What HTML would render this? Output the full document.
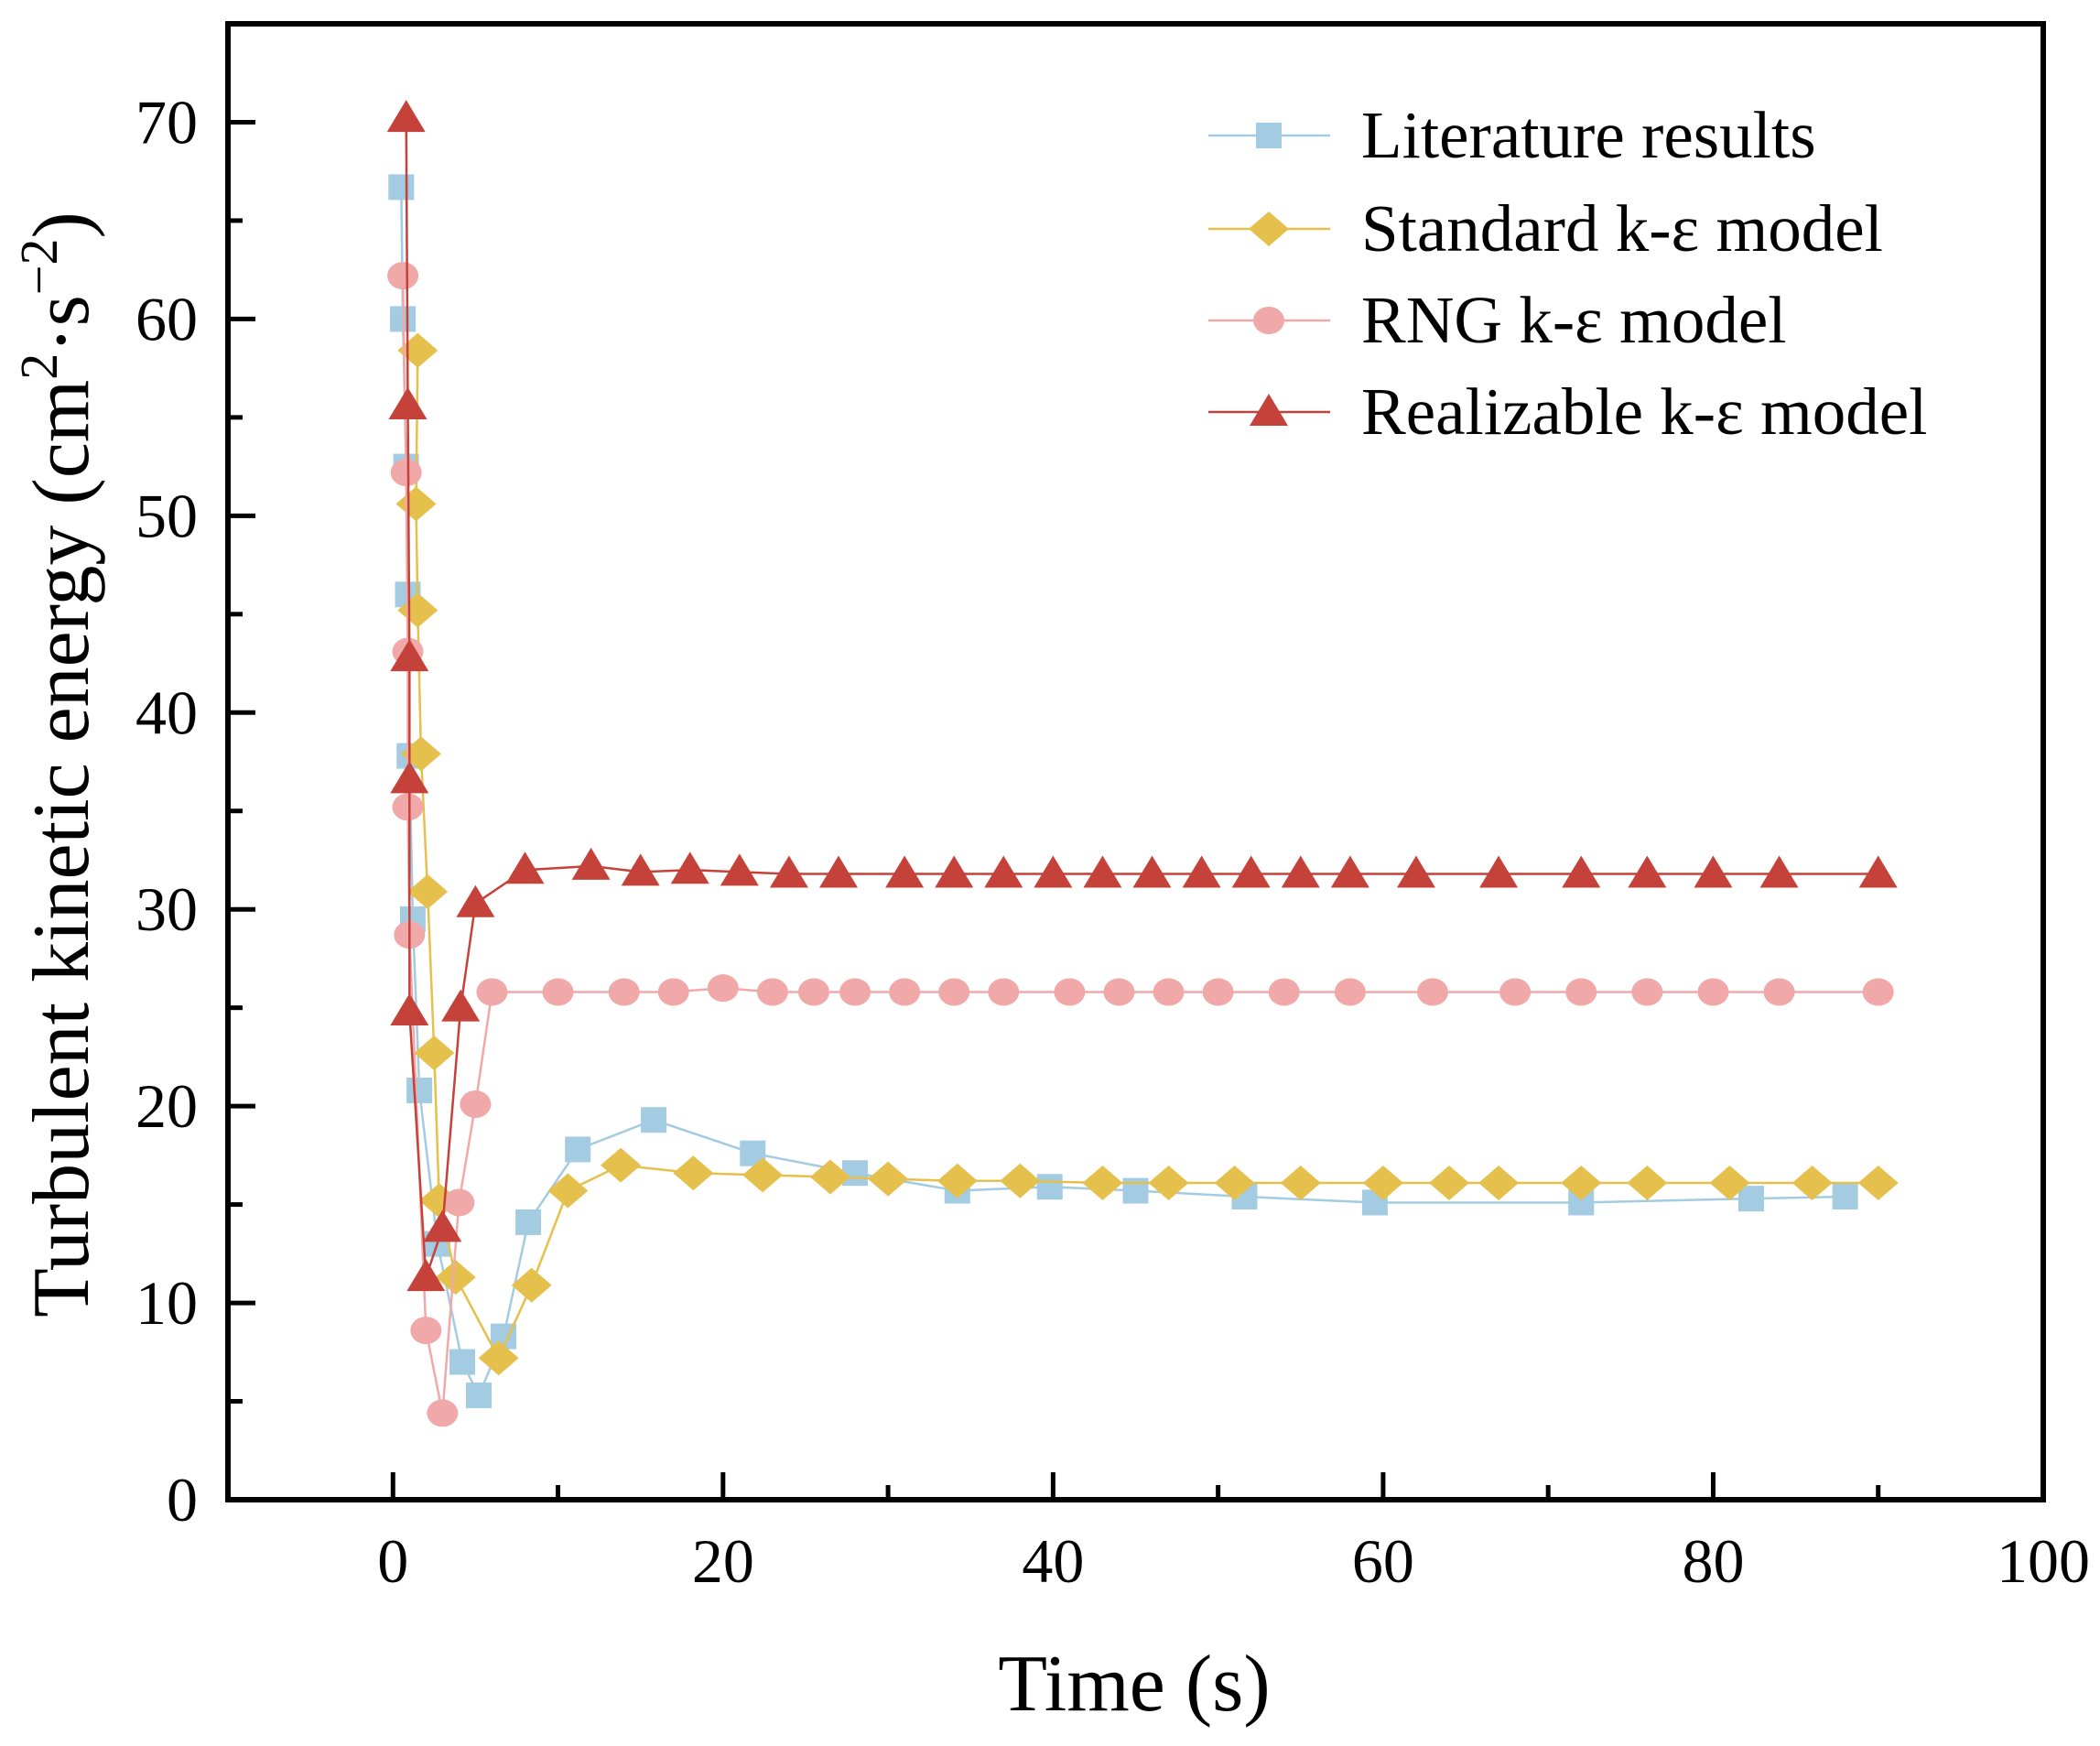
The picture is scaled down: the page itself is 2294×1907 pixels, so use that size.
<!DOCTYPE html>
<html><head><meta charset="utf-8"><style>
html,body{margin:0;padding:0;background:#fff}
svg{display:block;font-family:"Liberation Serif",serif}
</style></head><body>
<svg id="chart" width="2294" height="1907" viewBox="0 0 2294 1907" xmlns="http://www.w3.org/2000/svg">
<rect width="2294" height="1907" fill="#fff"/>
<g id="plot"></g>
<g id="axes"></g>
<text x="1239" y="1868" font-size="88" text-anchor="middle">Time (s)</text>
<text transform="translate(96,835) rotate(-90)" font-size="88" text-anchor="middle">Turbulent kinetic energy (cm<tspan dy="-34" font-size="58">2</tspan><tspan dy="34">·s</tspan><tspan dy="-34" font-size="58">−2</tspan><tspan dy="34">)</tspan></text>
<g id="legend"></g>
</svg>
<script>
const litX=[0.5,0.6,0.8,0.9,1.0,1.2,1.6,2.7,4.2,5.2,6.7,8.2,11.2,15.8,21.8,28,34.2,39.8,45,51.6,59.5,72,82.3,88];
const litY=[66.7,60,52.5,46,37.8,29.5,20.8,13,7,5.3,8.3,14.1,17.8,19.3,17.6,16.6,15.7,15.9,15.7,15.4,15.1,15.1,15.3,15.4];
const stdX=[1.5,1.4,1.5,1.7,2.1,2.5,2.8,3.8,6.4,8.4,10.6,13.8,18.2,22.4,26.5,30,34.2,38,43,47,51,55,60,64,67,72,76,81,86,90];
const stdY=[58.4,50.6,45.2,37.9,30.9,22.7,15.2,11.3,7.2,10.9,15.7,17,16.6,16.5,16.4,16.3,16.2,16.2,16.1,16.1,16.1,16.1,16.1,16.1,16.1,16.1,16.1,16.1,16.1,16.1];
const rngX=[0.6,0.8,0.9,0.9,1.0,2.0,3.0,4.0,5.0,6.0,10,14,17,20,23,25.5,28,31,34,37,41,44,47,50,54,58,63,68,72,76,80,84,90];
const rngY=[62.2,52.2,43.1,35.2,28.7,8.6,4.4,15.1,20.1,25.8,25.8,25.8,25.8,26,25.8,25.8,25.8,25.8,25.8,25.8,25.8,25.8,25.8,25.8,25.8,25.8,25.8,25.8,25.8,25.8,25.8,25.8,25.8];
const relX=[0.8,0.9,1.0,1.0,1.0,2.0,3.0,4.1,5.0,8,12,15,18,21,24,27,31,34,37,40,43,46,49,52,55,58,62,67,72,76,80,84,90];
const relY=[70.2,55.6,42.8,36.6,24.8,11.3,13.8,25,30.3,32,32.2,31.9,32,31.9,31.8,31.8,31.8,31.8,31.8,31.8,31.8,31.8,31.8,31.8,31.8,31.8,31.8,31.8,31.8,31.8,31.8,31.8,31.8];
const xTicks=[0,20,40,60,80,100];
const yTicks=[0,10,20,30,40,50,60,70];
const seriesNames=["Literature results","Standard k-ε model","RNG k-ε model","Realizable k-ε model"];

const X0=249,X1=2232,Y0=1638,Y1=26,xmin=-10,xmax=100,ymin=0,ymax=75;
const sx=v=>X0+(v-xmin)/(xmax-xmin)*(X1-X0);
const sy=v=>Y0-(v-ymin)/(ymax-ymin)*(Y0-Y1);
const NS="http://www.w3.org/2000/svg";
function mk(tag,attrs,parent){const e=document.createElementNS(NS,tag);for(const k in attrs)e.setAttribute(k,attrs[k]);parent.appendChild(e);return e;}
const plot=document.getElementById('plot'),axes=document.getElementById('axes'),legend=document.getElementById('legend');

function marker(kind,cx,cy,color,parent){
  let e;
  if(kind==='sq') e=mk('rect',{x:cx-14,y:cy-14,width:28,height:28,fill:color},parent);
  else if(kind==='dia') e=mk('polygon',{points:`${cx},${cy-19} ${cx+22},${cy} ${cx},${cy+19} ${cx-22},${cy}`,fill:color},parent);
  else if(kind==='cir') e=mk('ellipse',{cx:cx,cy:cy,rx:17,ry:15,fill:color},parent);
  else e=mk('polygon',{points:`${cx},${cy-20} ${cx+21},${cy+15} ${cx-21},${cy+15}`,fill:color},parent);
  return e;
}
const series=[
 {xs:litX,ys:litY,kind:'sq',color:'#a3cbe2',name:'literature'},
 {xs:stdX,ys:stdY,kind:'dia',color:'#e6c04c',name:'standard'},
 {xs:rngX,ys:rngY,kind:'cir',color:'#f1a8a8',name:'rng'},
 {xs:relX,ys:relY,kind:'tri',color:'#c5423a',name:'realizable'}
];
series.forEach((s,si)=>{
  const g=mk('g',{},plot);
  
  
  const pl=mk('polyline',{points:s.xs.map((x,i)=>sx(x)+','+sy(s.ys[i])).join(' '),fill:'none',stroke:s.color,'stroke-width':2.5},g);
  
  
  s.xs.forEach((x,i)=>{
    const m=marker(s.kind,sx(x),sy(s.ys[i]),s.color,g);
    
    
  });
});
const fr=mk('rect',{x:X0,y:Y1,width:X1-X0,height:Y0-Y1,fill:'none',stroke:'#000','stroke-width':6},axes);


xTicks.forEach(t=>{
  const x=sx(t);
  mk('line',{x1:x,y1:Y0,x2:x,y2:Y0-30,stroke:'#000','stroke-width':5},axes);
  const lb=mk('text',{x:x,y:1728,'font-size':68,'text-anchor':'middle'},axes);
  lb.textContent=t;
  
  
  if(t<100){const m=sx(t+10);mk('line',{x1:m,y1:Y0,x2:m,y2:Y0-16,stroke:'#000','stroke-width':5},axes);}
});
yTicks.forEach(t=>{
  const y=sy(t);
  mk('line',{x1:X0,y1:y,x2:X0+30,y2:y,stroke:'#000','stroke-width':5},axes);
  const lb=mk('text',{x:216,y:y+23,'font-size':68,'text-anchor':'end'},axes);
  lb.textContent=t;
  
  
  const m=sy(t+5);
  if(t+5<ymax) mk('line',{x1:X0,y1:m,x2:X0+16,y2:m,stroke:'#000','stroke-width':5},axes);
});
const legY=[148,250,350,450];
series.forEach((s,i)=>{
  const g=mk('g',{},legend);
  
  
  mk('line',{x1:1320,y1:legY[i],x2:1453,y2:legY[i],stroke:s.color,'stroke-width':2.5},g);
  marker(s.kind,1386,legY[i],s.color,g);
  const t=mk('text',{x:1487,y:legY[i]+24,'font-size':73},g);
  t.textContent=seriesNames[i];
});
</script>
</body></html>
